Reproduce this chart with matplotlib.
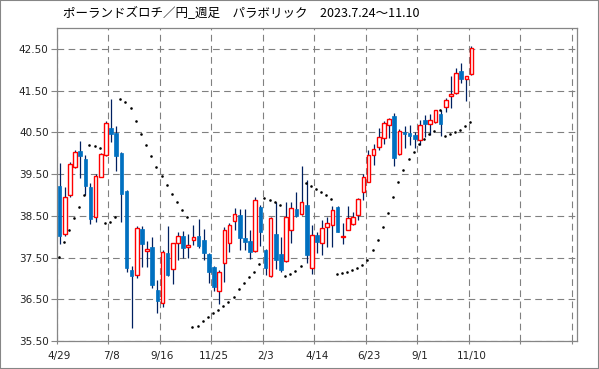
import numpy as np
import matplotlib
matplotlib.use('Agg')
import matplotlib.pyplot as plt
from matplotlib.patches import Rectangle

# weekly PLN/JPY candles, 2022/4/29 .. 2023/11/10
opens = [39.21, 38.07, 39.01, 39.68, 40.05, 39.86, 39.19, 38.48, 39.44, 39.95,
         40.60, 40.49, 40.00, 39.09, 37.20, 37.08, 38.18, 37.66, 37.76, 36.72,
         36.42, 37.60, 37.22, 37.84, 38.01, 37.75, 37.93, 38.01, 37.92, 37.59,
         37.28, 36.70, 37.38, 37.84, 38.37, 38.52, 37.97, 37.90, 37.65, 38.72,
         37.67, 37.05, 38.06, 37.59, 37.42, 38.16, 38.67, 38.54, 38.76, 37.26,
         38.04, 37.85, 38.22, 38.28, 38.70, 38.00, 38.17, 38.30, 38.52, 39.07,
         39.32, 39.96, 40.14, 40.37, 40.68, 40.89, 39.97, 40.50, 40.48, 40.44,
         40.32, 40.79, 40.69, 40.74, 40.94, 41.10, 41.36, 41.44, 41.97, 41.77,
         41.89]
highs = [39.76, 39.18, 39.80, 40.08, 40.29, 39.95, 39.28, 39.49, 40.01, 40.76,
         41.30, 40.64, 40.02, 39.12, 37.30, 38.25, 38.26, 37.90, 38.00, 36.95,
         37.68, 38.25, 37.86, 38.10, 38.13, 38.06, 38.28, 38.42, 38.18, 37.62,
         37.30, 37.20, 38.22, 38.32, 38.68, 38.66, 38.66, 38.17, 38.96, 38.75,
         37.70, 38.46, 38.84, 38.00, 38.83, 38.84, 39.08, 39.70, 39.36, 38.28,
         38.10, 38.40, 38.46, 38.73, 38.73, 38.32, 38.73, 38.60, 38.92, 39.50,
         40.08, 40.21, 40.60, 40.78, 40.84, 40.96, 40.58, 40.66, 40.68, 40.50,
         40.80, 40.92, 40.93, 41.04, 41.04, 41.32, 41.86, 42.04, 42.16, 41.85,
         42.58]
lows = [37.82, 38.02, 38.94, 39.64, 39.40, 38.99, 38.31, 38.34, 39.42, 39.93,
        40.28, 39.58, 38.36, 37.16, 35.82, 37.02, 37.28, 37.28, 36.76, 36.18,
        36.32, 37.05, 36.87, 37.43, 37.48, 37.48, 37.79, 37.72, 37.43, 36.90,
        36.69, 36.38, 36.92, 37.63, 38.16, 37.67, 37.68, 37.46, 37.63, 37.78,
        37.08, 37.03, 37.22, 37.15, 37.40, 37.84, 38.48, 38.52, 37.38, 37.10,
        37.60, 37.56, 37.76, 37.76, 38.10, 37.82, 38.15, 38.28, 38.40, 38.88,
        39.30, 39.72, 40.08, 40.22, 40.36, 39.70, 39.95, 40.13, 40.20, 40.12,
        40.20, 40.40, 40.44, 40.72, 40.42, 40.98, 41.09, 41.42, 41.69, 41.24,
        41.88]
closes = [38.02, 38.96, 39.73, 40.02, 39.94, 39.22, 38.43, 39.46, 39.97, 40.72,
          40.47, 39.94, 39.03, 37.25, 37.06, 38.20, 37.82, 37.70, 36.83, 36.45,
          37.63, 37.09, 37.84, 38.01, 37.72, 37.80, 37.99, 37.77, 37.60, 37.16,
          36.80, 37.15, 38.16, 38.27, 38.54, 37.97, 37.88, 37.64, 38.88, 38.12,
          37.26, 38.44, 37.43, 37.19, 38.47, 38.68, 38.50, 38.82, 37.55, 38.04,
          37.88, 38.20, 38.32, 38.65, 38.12, 38.02, 38.44, 38.48, 38.90, 39.44,
          39.96, 40.09, 40.40, 40.73, 40.81, 39.89, 40.52, 40.47, 40.42, 40.33,
          40.68, 40.71, 40.79, 41.03, 40.71, 41.27, 41.41, 41.92, 41.77, 41.84,
          42.52]
sar = [37.52, 37.88, 38.17, 38.44, 38.72, 39.01, 40.20, 40.17, 40.12, 38.32,
       38.36, 38.48, 41.29, 41.22, 41.08, 40.76, 40.45, 40.19, 39.93, 39.66,
       39.46, 39.24, 39.02, 38.83, 38.64, 38.48, 35.84, 35.87, 35.97, 36.07,
       36.16, 36.25, 36.35, 36.43, 36.56, 36.74, 36.88, 37.03, 37.16, 37.34,
       38.92, 38.89, 38.83, 38.76, 37.06, 37.11, 37.18, 37.29, 39.28, 39.21,
       39.14, 39.06, 38.99, 38.91, 37.10, 37.14, 37.16, 37.20, 37.24, 37.31,
       37.45, 37.67, 37.91, 38.24, 38.57, 38.94, 39.31, 39.60, 39.85, 40.04,
       40.21, 40.33, 40.45, 40.54, 41.03, 40.42, 40.46, 40.50, 40.55, 40.65,
       40.74]
date_labels = ['4/29', '7/8', '9/16', '11/25', '2/3', '4/14', '6/23', '9/1', '11/10']
title = 'ポーランドズロチ／円_週足　パラボリック　2023.7.24～11.10'

o = np.array(opens)
h = np.array(highs)
l = np.array(lows)
c = np.array(closes)
x = np.arange(len(o)) + 0.5
up = c >= o

fig = plt.figure(figsize=(5.99, 3.69), dpi=100)
ax = fig.add_axes([57 / 599, 1 - 341 / 369, 520 / 599, 313 / 369])

ax.vlines(x, l, h, color='#002060', lw=0.9, zorder=2)
ax.bar(x[up], (c - o)[up], bottom=o[up], width=0.7, facecolor='white',
       edgecolor='#ff0000', lw=1.0, zorder=3)
ax.bar(x[~up], (o - c)[~up], bottom=c[~up], width=0.7, facecolor='#0070c0',
       edgecolor='#0070c0', lw=0.5, zorder=3)
ax.scatter(x - 0.2, sar, s=3.5, color='black', linewidths=0, zorder=4)

ax.set_xlim(0, 101)
ax.set_ylim(35.5, 43.0)
yt = np.arange(35.5, 42.51, 1.0)
ax.set_yticks(yt)
ax.set_yticklabels(['%.2f' % v for v in yt], fontsize=7.5, color='#222222')
ax.set_xticks(np.arange(0, 101, 10))
ax.set_xticklabels([])
ax.set_xticks(np.arange(0, 81, 10) + 0.5, minor=True)
ax.set_xticklabels(date_labels, minor=True, fontsize=7.5, color='#222222')
ax.tick_params(axis='x', which='major', length=2.5, color='#868686', direction='out')
ax.tick_params(axis='x', which='minor', length=0, pad=7.5)
ax.tick_params(axis='y', length=4, color='#868686', pad=2)
ax.grid(True, which='major', ls=(0, (6, 4)), color='#808080', lw=0.8)
for s in ax.spines.values():
    s.set_color('#868686')
    s.set_linewidth(0.9)

fig.text(63 / 599, 1 - 14 / 369, title, fontsize=9, va='center', ha='left',
         family=['Noto Sans CJK JP', 'DejaVu Sans'])
fig.patches.append(Rectangle((0, 0), 1, 1, transform=fig.transFigure, fill=False,
                             edgecolor='#868686', lw=1.5))

fig.savefig('out.png', dpi=100)
